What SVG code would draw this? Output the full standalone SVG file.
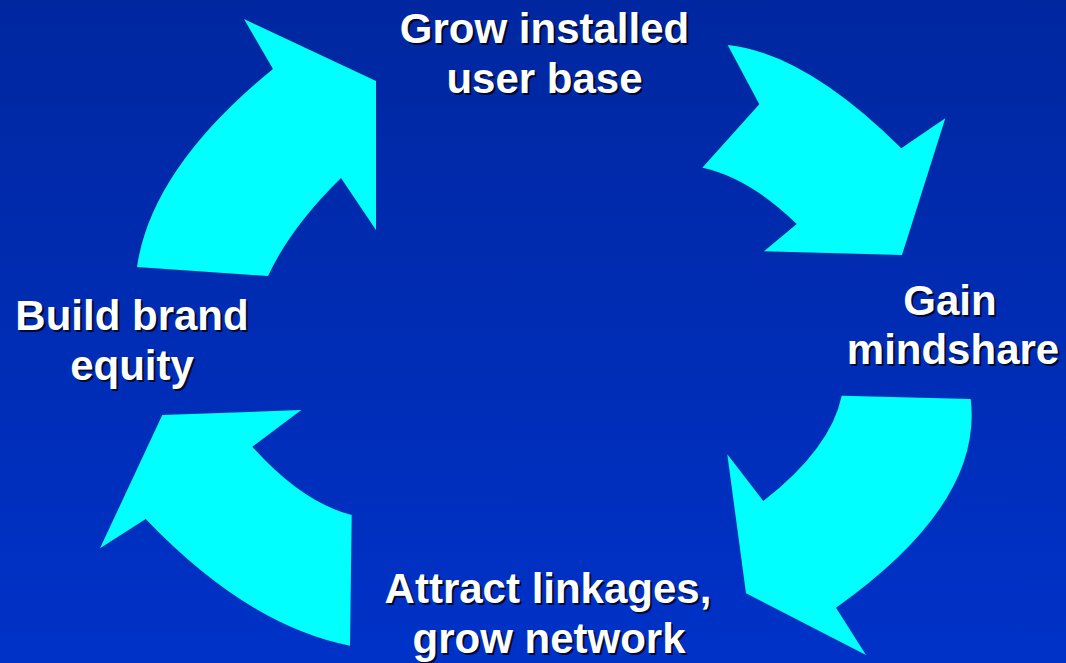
<svg xmlns="http://www.w3.org/2000/svg" width="1066" height="663" viewBox="0 0 1066 663">
  <defs>
    <linearGradient id="bg" x1="0" y1="0" x2="0" y2="1">
      <stop offset="0" stop-color="#0027A0"/>
      <stop offset="1" stop-color="#0032C8"/>
    </linearGradient>
  </defs>
  <style>
    .arrow { fill: #00FFFF; stroke: none; }
    .lbl { font-family: "Liberation Sans", Arial, sans-serif; font-weight: bold; font-size: 42px; text-anchor: middle; }
    .sh { fill: #000000; fill-opacity: 0.75; }
    .fg { fill: #FFFFFF; }
  </style>
  <rect x="0" y="0" width="1066" height="663" fill="url(#bg)"/>

  <g id="connectors">
    <path id="arrow-top-left" class="arrow" d="M 137,267 Q 151.3,168.3 273,69 L 244,19 L 376,81 L 376,230 L 341,178 Q 290.9,227 268,276 Z"/>
    <path id="arrow-top-right" class="arrow" d="M 727.7,45 L 759.3,104.3 L 702.3,167.7 Q 749.1,177.6 796.7,224 L 764,251.3 L 902,255 L 945.3,118.3 L 901.3,148.3 Q 805.5,53.3 727.7,45 Z"/>
    <path id="arrow-bottom-right" class="arrow" d="M 841.7,395.7 L 970.7,399 Q 983.3,503.3 836,607.7 L 866,655 L 746,593.3 L 727.3,454.3 L 763.3,501 Q 830.9,448.3 841.7,395.7 Z"/>
    <path id="arrow-bottom-left" class="arrow" d="M 162.3,415 L 301.3,410 L 252.3,446.7 Q 302,502.5 351.7,515 L 350,645.7 Q 247.8,625.7 145.7,519 L 100,548.3 Z"/>
  </g>

  <g id="node-grow-installed">
    <text class="lbl sh" x="546.5" y="45">Grow installed</text>
    <text class="lbl sh" x="546.5" y="95">user base</text>
    <text class="lbl fg" x="544.5" y="43">Grow installed</text>
    <text class="lbl fg" x="544.5" y="93">user base</text>
  </g>

  <g id="node-gain-mindshare">
    <text class="lbl sh" x="952" y="317">Gain</text>
    <text class="lbl sh" x="955" y="366">mindshare</text>
    <text class="lbl fg" x="950" y="315">Gain</text>
    <text class="lbl fg" x="953" y="364">mindshare</text>
  </g>

  <g id="node-attract-linkages">
    <text class="lbl sh" x="550" y="605">Attract linkages,</text>
    <text class="lbl sh" x="551" y="655">grow network</text>
    <text class="lbl fg" x="548" y="603">Attract linkages,</text>
    <text class="lbl fg" x="549" y="653">grow network</text>
  </g>

  <g id="node-build-brand">
    <text class="lbl sh" x="134" y="332">Build brand</text>
    <text class="lbl sh" x="134" y="382">equity</text>
    <text class="lbl fg" x="132" y="330">Build brand</text>
    <text class="lbl fg" x="132" y="380">equity</text>
  </g>
</svg>
